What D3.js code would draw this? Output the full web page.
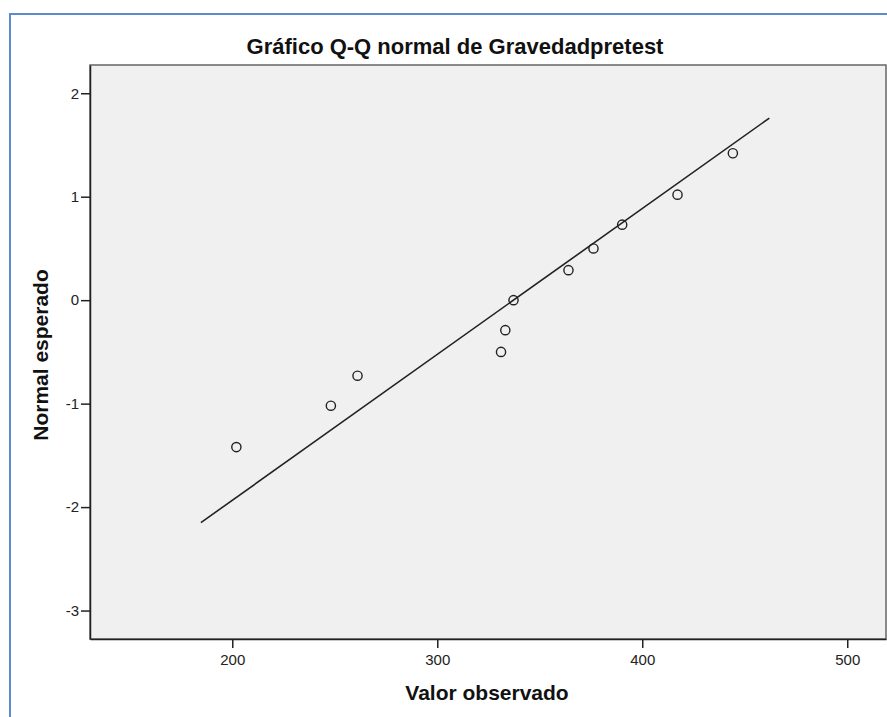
<!DOCTYPE html>
<html>
<head>
<meta charset="utf-8">
<script src="https://cdn.jsdelivr.net/npm/d3@7"></script>
<style>
  body { margin: 0; background: #fff; }
  svg { display: block; font-family: "Liberation Sans", Arial, sans-serif; }
</style>
</head>
<body>
<svg id="qq" width="887" height="717"></svg>
<script>
// values
var obsValues = [202, 248.1, 261.1, 331.1, 333.2, 337.2, 364.0, 376.2, 390.2, 417.2, 444.2];
var expNormal = [-1.42, -1.02, -0.73, -0.50, -0.29, 0, 0.29, 0.50, 0.73, 1.02, 1.42];
var refLineX = [184.7, 462];
var refLineY = [-2.15, 1.76];
var xTicks = [200, 300, 400, 500];
var yTicks = [-3, -2, -1, 0, 1, 2];

var svg = d3.select("#qq"),
  margin = {
    top: 65,
    right: 1,
    bottom: 78,
    left: 90
  },
  width = +svg.attr("width") - margin.left - margin.right,
  height = +svg.attr("height") - margin.top - margin.bottom;

// blue selection frame around the figure
svg.append("path")
  .attr("d", "M10,717 L10,14 L887,14")
  .attr("fill", "none")
  .attr("stroke", "#5b8bd1")
  .attr("stroke-width", 2);

var g = svg.append("g").attr("transform", "translate(" + margin.left + "," + margin.top + ")");

var x = d3.scaleLinear().domain([130.6, 518.9]).range([0, width]);
var y = d3.scaleLinear().domain([-3.275, 2.273]).range([height, 0]);

g.append("rect")
  .attr("width", width)
  .attr("height", height)
  .attr("fill", "#f0f0f0")
  .attr("stroke", "#666")
  .attr("stroke-width", 1.5);

// plain integers with a hyphen, like the original
var fmt = function(d) { return String(d); };

var xAxis = g.append("g")
  .attr("transform", "translate(0," + height + ")")
  .call(d3.axisBottom(x).tickValues(xTicks).tickFormat(fmt).tickSize(9).tickSizeOuter(0).tickPadding(6));

var yAxis = g.append("g")
  .call(d3.axisLeft(y).tickValues(yTicks).tickFormat(fmt).tickSize(9).tickSizeOuter(0).tickPadding(2));

[xAxis, yAxis].forEach(function(a) {
  a.select(".domain").attr("stroke", "#222").attr("stroke-width", 1.5);
  a.selectAll(".tick line").attr("stroke", "#222").attr("stroke-width", 1.5);
  a.selectAll(".tick text")
    .attr("fill", "#222")
    .style("font-size", "15px")
    .style("font-family", "'Liberation Sans', Arial, sans-serif");
});

// reference line
g.append("line")
  .attr("x1", x(refLineX[0]))
  .attr("y1", y(refLineY[0]))
  .attr("x2", x(refLineX[1]))
  .attr("y2", y(refLineY[1]))
  .attr("stroke", "#222")
  .attr("stroke-width", 1.6);

g.selectAll(".pt")
  .data(obsValues)
  .enter().append("circle")
  .attr("class", "pt")
  .attr("cx", function(d) { return x(d); })
  .attr("cy", function(d, i) { return y(expNormal[i]); })
  .attr("r", 4.6)
  .attr("fill", "none")
  .attr("stroke", "#222")
  .attr("stroke-width", 1.4);

svg.append("text")
  .attr("x", 455)
  .attr("y", 54)
  .attr("text-anchor", "middle")
  .attr("font-weight", "bold")
  .attr("font-size", 22)
  .attr("fill", "#111")
  .text("Gráfico Q-Q normal de Gravedadpretest");

svg.append("text")
  .attr("x", 487)
  .attr("y", 700)
  .attr("text-anchor", "middle")
  .attr("font-weight", "bold")
  .attr("font-size", 21)
  .attr("fill", "#111")
  .text("Valor observado");

svg.append("text")
  .attr("transform", "translate(48,355) rotate(-90)")
  .attr("text-anchor", "middle")
  .attr("font-weight", "bold")
  .attr("font-size", 21)
  .attr("fill", "#111")
  .text("Normal esperado");
</script>
</body>
</html>
